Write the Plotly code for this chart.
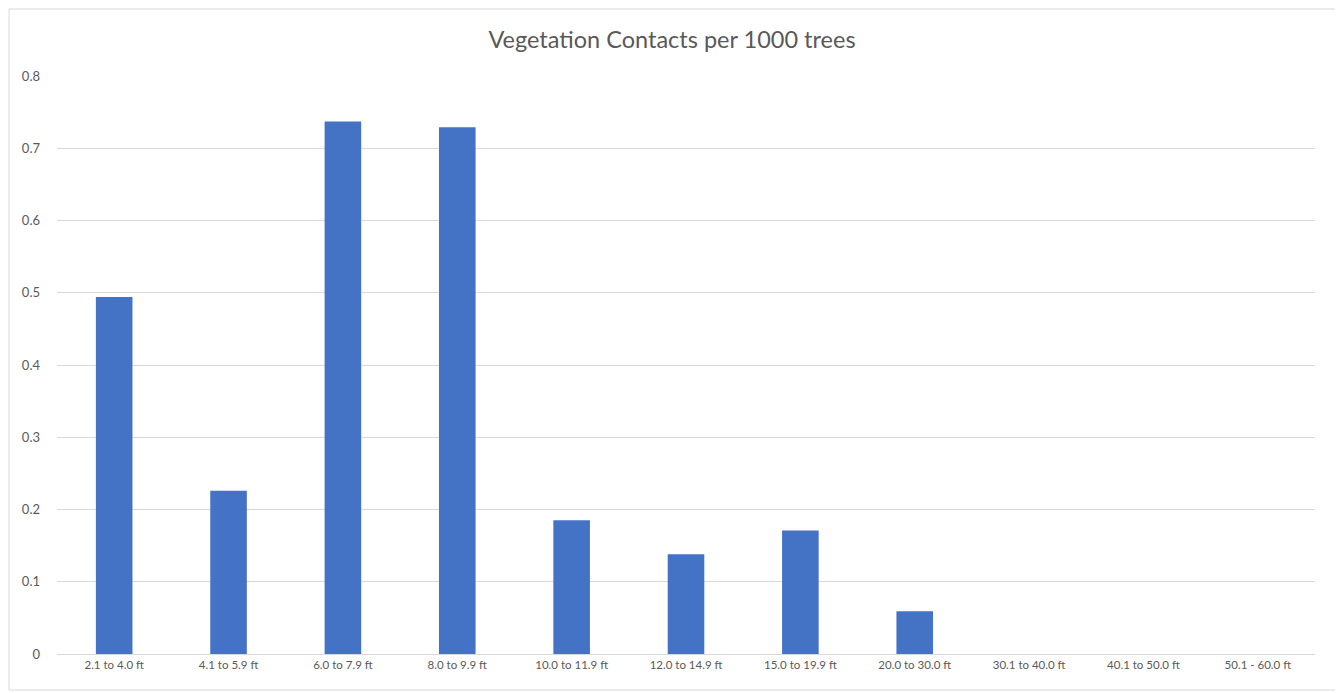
import plotly.graph_objects as go

categories = ["2.1 to 4.0 ft", "4.1 to 5.9 ft", "6.0 to 7.9 ft", "8.0 to 9.9 ft",
              "10.0 to 11.9 ft", "12.0 to 14.9 ft", "15.0 to 19.9 ft", "20.0 to 30.0 ft",
              "30.1 to 40.0 ft", "40.1 to 50.0 ft", "50.1 - 60.0 ft"]
values = [0.494, 0.226, 0.737, 0.729, 0.185, 0.138, 0.171, 0.059, 0, 0, 0]
y_ticks = [0, 0.1, 0.2, 0.3, 0.4, 0.5, 0.6, 0.7, 0.8]

W, H = 1335, 685
L, R, T, B = 49, 28, 68, 39
pw, ph = W - L - R, H - T - B

fig = go.Figure(go.Bar(x=categories, y=values, marker_color="#4472C4",
                       marker_line_width=0))

fig.update_layout(
    width=W, height=H,
    margin=dict(l=L, r=R, t=T, b=B),
    paper_bgcolor="white", plot_bgcolor="white",
    bargap=0.68,
    font=dict(family="Lato, Open Sans, sans-serif", color="#595959", size=11),
    title=dict(text="Vegetation Contacts per 1000 trees", x=664 / W, xanchor="center",
               y=1 - 32 / H, yanchor="middle",
               font=dict(size=23.5, color="#595959")),
    showlegend=False,
    xaxis=dict(showgrid=False, showline=True, linecolor="#d9d9d9", linewidth=1,
               ticks="", tickfont=dict(size=11.5, color="#595959")),
    yaxis=dict(range=[0, 0.8], tickvals=y_ticks, showgrid=True, gridcolor="#d9d9d9",
               gridwidth=1, zeroline=False, showline=False, ticks="",
               ticklabelstandoff=16,
               tickfont=dict(size=13, color="#595959")),
    shapes=[dict(type="rect", xref="paper", yref="paper",
                 x0=-(L - 1) / pw, x1=1 + (R - 3) / pw,
                 y0=-(B - 3) / ph, y1=1 + (T - 1) / ph,
                 line=dict(color="#d9d9d9", width=1))],
)

fig.write_html("out.html")
